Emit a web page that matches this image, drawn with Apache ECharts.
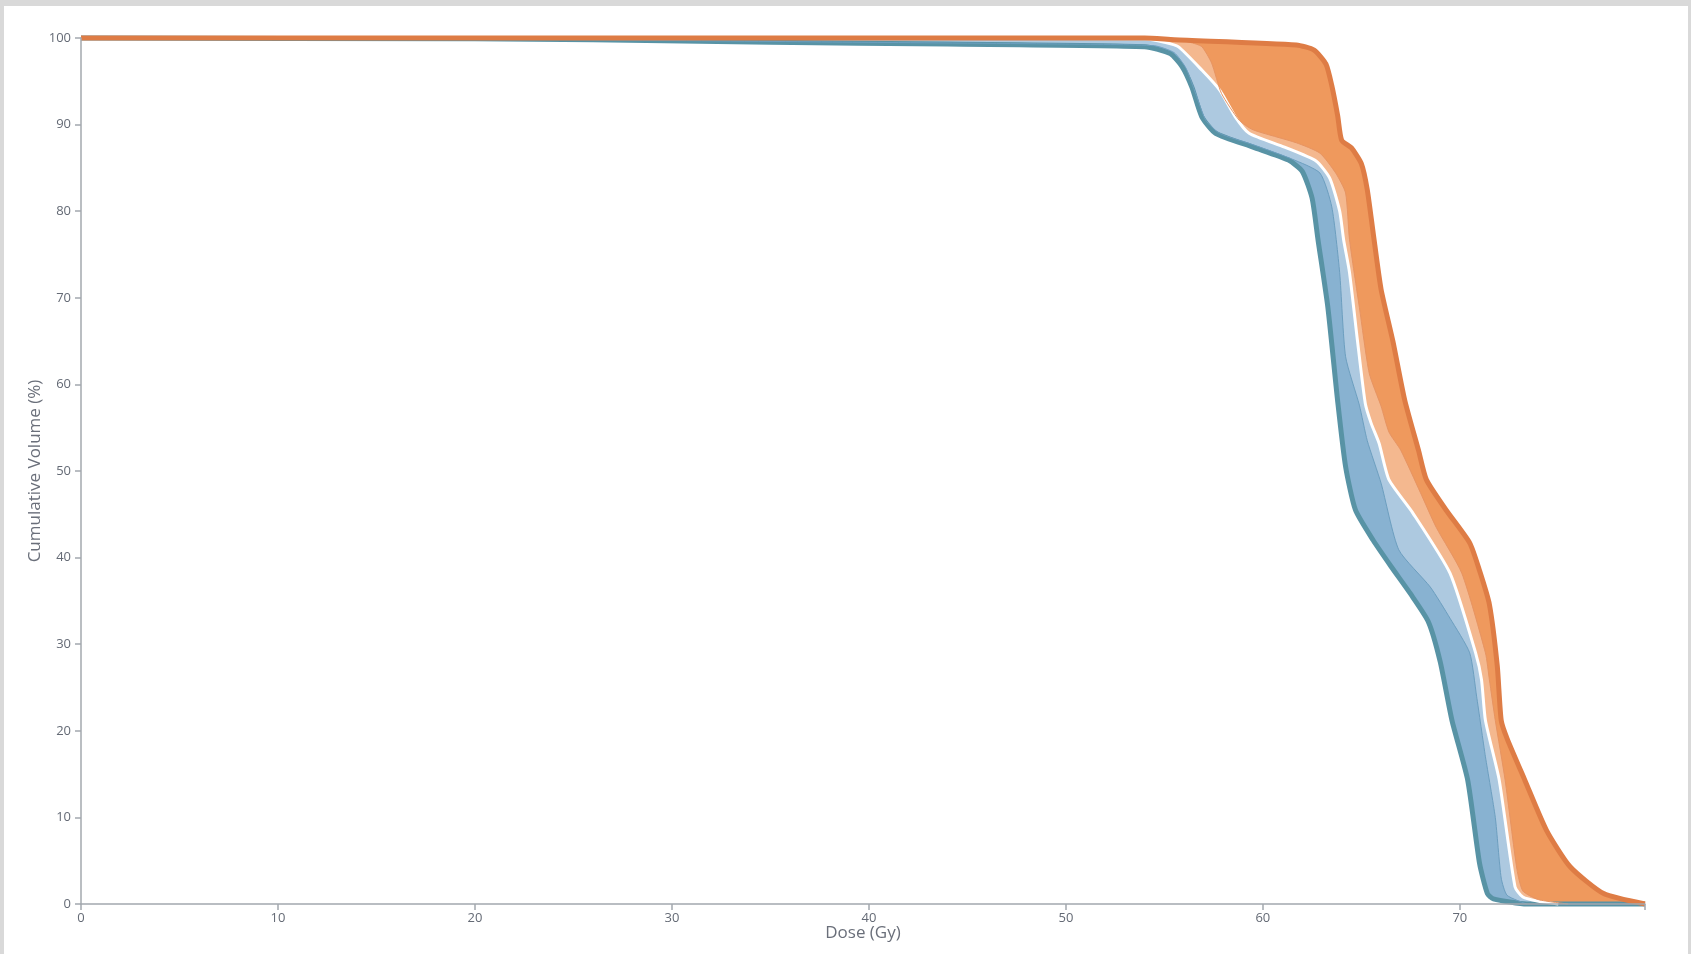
<!DOCTYPE html>
<html>
<head>
<meta charset="utf-8">
<script src="https://cdn.jsdelivr.net/npm/echarts@6/dist/echarts.min.js"></script>
<style>
  html, body { margin: 0; padding: 0; background: #d9d9d9; }
  body { width: 1691px; height: 954px; position: relative; overflow: hidden; }
  #chart { position: absolute; left: 4px; top: 6px; width: 1684px; height: 948px; background: #ffffff; }
</style>
</head>
<body>
<div id="chart"></div>
<script>
// Dose-volume histogram band: min, lower quartile, median, upper quartile, max.
// Dose in Gy, cumulative volume in %.
const maxDose = [0, 20, 40, 54, 55.5, 61.7, 62.6, 63.2, 63.5, 63.8, 64.0, 64.5, 65.0, 65.3, 65.6, 66.0, 66.6, 67.2, 67.9, 68.3, 69.3, 70.5, 71.0, 71.5, 71.9, 72.1, 72.4, 73.3, 74.4, 75.6, 77.3, 79.4];
const maxVol  = [100, 100, 100, 100, 99.8, 99.2, 98.6, 97.0, 94.5, 91.0, 88.2, 87.3, 85.5, 82.5, 77.5, 71.0, 65.0, 58.2, 52.4, 49.0, 45.5, 41.7, 38.5, 34.6, 27.5, 21.2, 19.1, 14.3, 8.5, 4.3, 1.2, 0];

const q3Dose = [0, 20, 40, 55.0, 56.3, 56.9, 57.4, 57.9, 58.8, 59.5, 61.7, 62.9, 63.7, 64.2, 64.4, 64.9, 65.4, 66.0, 66.4, 67.0, 68.0, 68.8, 70.1, 71.3, 71.5, 71.8, 72.3, 72.9, 73.2, 74.0, 75.5];
const q3Vol  = [100, 100, 100, 100, 99.5, 99.0, 97.1, 93.6, 90.5, 89.4, 87.9, 86.7, 84.4, 82.1, 76.7, 68.9, 61.3, 57.5, 54.5, 52.4, 47.5, 43.5, 38.2, 29.0, 25.9, 21.2, 14.3, 4.0, 1.5, 0.5, 0];

const medDose = [0, 20, 40, 54.0, 55.0, 55.7, 56.9, 57.8, 58.6, 59.3, 61.1, 62.7, 63.4, 63.9, 64.1, 64.4, 64.8, 65.2, 65.5, 65.9, 66.4, 67.6, 69.5, 70.8, 71.1, 71.3, 72.0, 72.8, 73.2, 74.0, 75.0];
const medVol  = [100, 100, 100, 99.9, 99.5, 99.0, 96.3, 94.0, 90.9, 89.0, 87.4, 85.8, 83.8, 80.0, 76.7, 72.9, 65.1, 57.8, 55.5, 53.2, 49.0, 45.2, 38.2, 29.0, 25.9, 21.2, 14.3, 2.0, 0.8, 0.3, 0];

const q1Dose = [0, 20, 40, 50, 54.5, 55.5, 56.1, 56.6, 57.1, 57.8, 59.6, 61.5, 62.9, 63.5, 63.9, 64.2, 64.9, 65.3, 66.0, 66.9, 68.5, 69.5, 70.5, 70.85, 71.3, 71.8, 72.1, 72.4, 73.4];
const q1Vol  = [100, 99.9, 99.5, 99.3, 99.1, 98.3, 96.5, 93.5, 90.5, 89.0, 87.6, 86.0, 84.4, 80.5, 72.9, 63.2, 57.6, 53.5, 48.6, 40.9, 36.6, 33.0, 29.0, 24.0, 17.0, 10.0, 3.0, 1.0, 0];

const minDose = [0, 20, 26, 35, 44, 54, 55.3, 55.9, 56.4, 56.9, 57.6, 59.5, 61.3, 62.0, 62.5, 62.8, 63.3, 63.8, 64.2, 64.7, 65.6, 66.5, 67.5, 68.4, 69.0, 69.6, 70.4, 71.0, 71.4, 71.7, 73.4, 79.4];
const minVol  = [100, 99.9, 99.8, 99.5, 99.3, 99.0, 98.2, 96.7, 94.3, 90.9, 89.0, 87.4, 85.9, 84.6, 81.5, 76.7, 68.9, 58.0, 50.5, 45.5, 42.0, 39.0, 35.8, 32.6, 28.0, 21.2, 14.3, 4.7, 1.2, 0.6, 0, 0];

const xTicks = [0, 10, 20, 30, 40, 50, 60, 70];
const yTicks = [0, 10, 20, 30, 40, 50, 60, 70, 80, 90, 100];

const pairs = (xs, ys) => xs.map((x, i) => [x, ys[i]]);

const curves = [
  { name: 'Max',    data: pairs(maxDose, maxVol), fill: '#ef995d', stroke: '#de7c45', width: 5 },
  { name: 'Q3',     data: pairs(q3Dose, q3Vol),   fill: '#f4b88f', stroke: '#e79462', width: 1 },
  { name: 'Median', data: pairs(medDose, medVol), fill: '#adc9e0', stroke: '#ffffff', width: 3 },
  { name: 'Q1',     data: pairs(q1Dose, q1Vol),   fill: '#88b2d1', stroke: '#6c9ebf', width: 1 },
  { name: 'Min',    data: pairs(minDose, minVol), fill: '#ffffff', stroke: '#5893a5', width: 5 }
];

const SMOOTH = 0.2;
const series = [];
// Filled layers, outermost first, each filled down to the dose axis
curves.forEach(c => {
  series.push({
    type: 'line', name: c.name + ' area', data: c.data, smooth: SMOOTH,
    symbol: 'none', silent: true, clip: false,
    lineStyle: { width: 0, opacity: 0 },
    areaStyle: { color: c.fill, opacity: 1, origin: 'start' }
  });
});
// Boundary strokes on top, with the max curve drawn last
curves.slice().reverse().forEach(c => {
  series.push({
    type: 'line', name: c.name, data: c.data, smooth: SMOOTH,
    symbol: 'none', silent: true, clip: false,
    lineStyle: { color: c.stroke, width: c.width, cap: 'butt', join: 'round' }
  });
});

const axisFont = 'Open Sans, Lato, sans-serif';
const labelColor = '#646a75';
const lineColor = '#a3a8ae';

const chart = echarts.init(document.getElementById('chart'), null, { renderer: 'canvas' });
chart.setOption({
  animation: false,
  backgroundColor: '#ffffff',
  grid: { left: 77, top: 32, right: 43, bottom: 50, containLabel: false },
  xAxis: {
    type: 'value', min: 0, max: maxDose[maxDose.length - 1], interval: 10, z: 10,
    name: 'Dose (Gy)', nameLocation: 'middle', nameGap: 21, nameMoveOverlap: false,
    nameTextStyle: { fontFamily: axisFont, fontSize: 17, color: '#6a6f7a' },
    axisLine: { show: true, lineStyle: { color: lineColor, width: 1.5 } },
    axisTick: { show: true, length: 6, lineStyle: { color: lineColor, width: 1.5 } },
    axisLabel: {
      margin: 8, fontFamily: axisFont, fontSize: 13, color: labelColor,
      formatter: v => (xTicks.indexOf(v) >= 0 ? String(v) : '')
    },
    splitLine: { show: false }
  },
  yAxis: {
    type: 'value', min: 0, max: 100, interval: 10, z: 10,
    name: 'Cumulative Volume (%)', nameLocation: 'middle', nameGap: 37, nameMoveOverlap: false,
    nameTextStyle: { fontFamily: axisFont, fontSize: 17, color: '#6a6f7a' },
    axisLine: { show: true, lineStyle: { color: lineColor, width: 1.5 } },
    axisTick: { show: true, length: 6, lineStyle: { color: lineColor, width: 1.5 } },
    axisLabel: {
      margin: 10, fontFamily: axisFont, fontSize: 13, color: labelColor,
      formatter: v => (yTicks.indexOf(v) >= 0 ? String(v) : '')
    },
    splitLine: { show: false }
  },
  series: series
});
</script>
</body>
</html>
